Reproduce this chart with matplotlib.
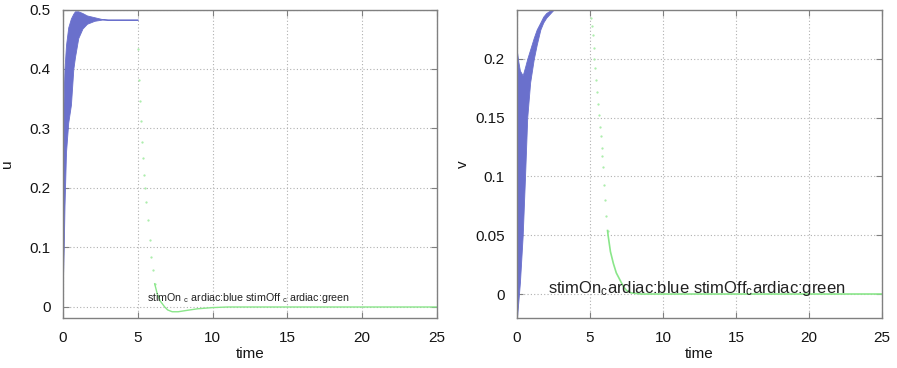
import matplotlib
matplotlib.use("Agg")
import matplotlib.pyplot as plt
import numpy as np

plt.rcParams['font.family'] = ['Liberation Sans', 'DejaVu Sans']
plt.rcParams['mathtext.fontset'] = 'custom'
plt.rcParams['mathtext.rm'] = 'Liberation Sans'
plt.rcParams['mathtext.it'] = 'Liberation Sans'

# ---------------- data: u (left) ----------------
# blue: stimulation on, oscillating band (envelope)
u_on_t     = [0.0, 0.05, 0.1, 0.2, 0.35, 0.53, 0.69, 0.8, 1.02, 1.3, 1.6, 2.1, 2.6, 3.0, 5.0]
u_on_upper = [0.30, 0.36, 0.40, 0.44, 0.47, 0.485, 0.493, 0.497, 0.497, 0.494, 0.490, 0.487, 0.484, 0.483, 0.483]
u_on_lower = [0.05, 0.10, 0.17, 0.26, 0.31, 0.34, 0.40, 0.42, 0.452, 0.468, 0.476, 0.481, 0.483, 0.483, 0.483]
# green: stimulation off (sparse samples during decay, then continuous)
u_off_dots_t = [5.01, 5.08, 5.15, 5.21, 5.28, 5.35, 5.40, 5.46, 5.57, 5.68, 5.79, 5.90, 6.02, 6.13]
u_off_dots_v = [0.433, 0.382, 0.346, 0.312, 0.278, 0.251, 0.222, 0.200, 0.176, 0.146, 0.112, 0.084, 0.062, 0.039]
u_off_t = [6.13, 6.3, 6.5, 6.8, 7.0, 7.3, 7.7, 8.2, 9.0, 10.0, 11.0, 13.0, 16.0, 20.0, 25.0]
u_off_v = [0.039, 0.022, 0.010, 0.000, -0.005, -0.008, -0.008, -0.006, -0.003, -0.001, 0.0, 0.0, 0.0, 0.0, 0.0]

# ---------------- data: v (right) ----------------
v_on_t     = [0.0, 0.1, 0.2, 0.39, 0.55, 0.7, 0.9, 1.15, 1.35, 1.6, 1.8, 2.0, 2.37, 2.6, 2.8]
v_on_upper = [0.206, 0.197, 0.190, 0.186, 0.193, 0.200, 0.208, 0.218, 0.225, 0.231, 0.236, 0.239, 0.242, 0.245, 0.246]
v_on_lower = [-0.02, -0.005, 0.01, 0.05, 0.10, 0.15, 0.18, 0.20, 0.212, 0.225, 0.231, 0.235, 0.240, 0.243, 0.246]
v_on_flat_t = [2.8, 5.0]
v_on_flat_v = [0.246, 0.246]
v_off_dots_t = [5.05, 5.12, 5.18, 5.25, 5.30, 5.34, 5.41, 5.50, 5.57, 5.62, 5.68, 5.75, 5.80, 5.84, 5.87, 5.96, 6.04, 6.12, 6.20]
v_off_dots_v = [0.235, 0.228, 0.220, 0.209, 0.200, 0.192, 0.182, 0.172, 0.162, 0.152, 0.142, 0.134, 0.124, 0.117, 0.108, 0.093, 0.080, 0.066, 0.054]
v_off_t = [6.20, 6.25, 6.4, 6.6, 6.8, 7.05, 7.3, 7.51, 7.8, 8.5, 10.0, 15.0, 20.0, 25.0]
v_off_v = [0.054, 0.049, 0.036, 0.026, 0.018, 0.012, 0.006, 0.003, 0.001, 0.0, 0.0, 0.0, 0.0, 0.0]

x_ticks = [0, 5, 10, 15, 20, 25]
u_ticks = [0, 0.1, 0.2, 0.3, 0.4, 0.5]
u_ticklabels = ['0', '0.1', '0.2', '0.3', '0.4', '0.5']
v_ticks = [0, 0.05, 0.1, 0.15, 0.2]
v_ticklabels = ['0', '0.05', '0.1', '0.15', '0.2']

BLUE = '#6a70cc'
GREEN = '#8ae68a'
DOTS = '#a6eca6'
FRAME = '#808080'
TXT = '#151515'

fig = plt.figure(figsize=(8.97, 3.68), dpi=100)
axL = fig.add_axes([63/897, 1-318/368, 374/897, 308.5/368])
axR = fig.add_axes([517/897, 1-318/368, 365/897, 308.5/368])

def style(ax):
    for s in ax.spines.values():
        s.set_color(FRAME)
        s.set_linewidth(1.0)
    ax.tick_params(direction='in', length=4, width=0.8, color=FRAME,
                   top=True, right=True, labelsize=11, pad=9, labelcolor=TXT)
    ax.grid(True, color='#b0b0b0', linestyle=(0, (1, 2)), linewidth=0.8)
    ax.set_axisbelow(True)
    ax.set_xlim(0, 25)
    ax.set_xticks(x_ticks)
    ax.set_xticklabels([str(t) for t in x_ticks])
    ax.set_xlabel('time', fontsize=11, color=TXT)
    ax.xaxis.set_label_coords(0.5, -0.095)

# left panel
style(axL)
axL.fill_between(u_on_t, u_on_lower, u_on_upper, color=BLUE, linewidth=0.6, edgecolor=BLUE)
axL.plot(u_off_dots_t, u_off_dots_v, linestyle='none', marker='.', markersize=1.2, color=DOTS)
axL.plot(u_off_t, u_off_v, color=GREEN, linewidth=1.0)
axL.set_ylim(-0.0185, 0.5)
axL.set_yticks(u_ticks)
axL.set_yticklabels(u_ticklabels)
axL.set_ylabel('u', fontsize=11, color=TXT)
axL.yaxis.set_label_coords(-0.13, 0.5)
axL.text(5.6, 0.004, r'stimOn $_{c}$ ardiac:blue stimOff $_{c}$ ardiac:green',
         fontsize=7.7, color='#222222', ha='left', va='bottom')

# right panel
style(axR)
axR.fill_between(v_on_t, v_on_lower, v_on_upper, color=BLUE, linewidth=0.6, edgecolor=BLUE)
axR.plot(v_on_flat_t, v_on_flat_v, color=BLUE, linewidth=1.0)
axR.plot(v_off_dots_t, v_off_dots_v, linestyle='none', marker='.', markersize=1.2, color=DOTS)
axR.plot(v_off_t, v_off_v, color=GREEN, linewidth=1.2)
axR.set_ylim(-0.0204, 0.242)
axR.set_yticks(v_ticks)
axR.set_yticklabels(v_ticklabels)
axR.set_ylabel('v', fontsize=11, color=TXT)
axR.yaxis.set_label_coords(-0.13, 0.5)
axR.text(2.1, -0.0035, r'stimOn$_{c}$ardiac:blue stimOff$_{c}$ardiac:green',
         fontsize=12, color='#222222', ha='left', va='bottom')

fig.savefig('out.png', dpi=100)
